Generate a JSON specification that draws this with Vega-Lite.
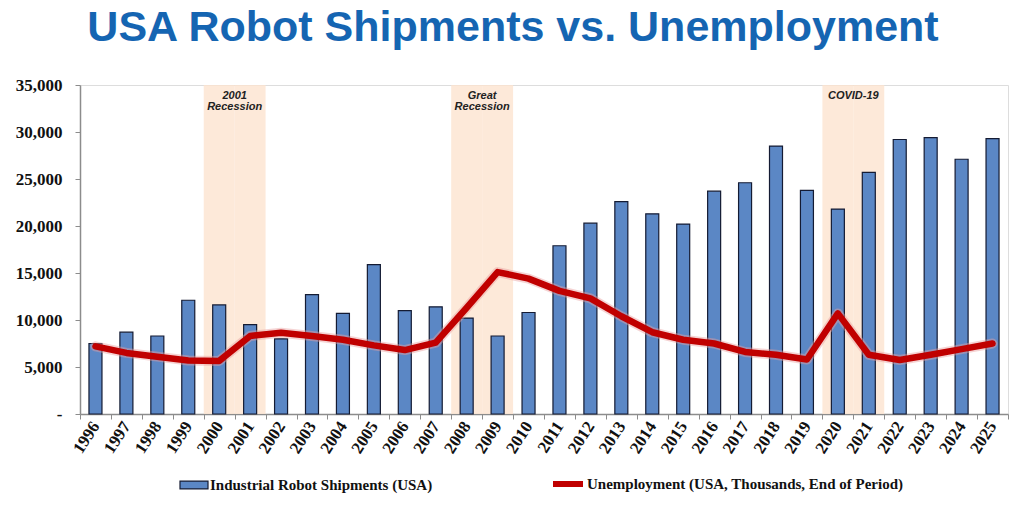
{
  "$schema": "https://vega.github.io/schema/vega-lite/v6.json",
  "autosize": "none",
  "width": 928,
  "height": 329,
  "padding": {"left": 80, "top": 85, "right": 16, "bottom": 96},
  "background": "white",
  "title": {
    "text": "USA Robot Shipments vs. Unemployment",
    "anchor": "middle",
    "dx": -31,
    "offset": -8,
    "baseline": "alphabetic",
    "font": "Liberation Sans",
    "fontSize": 43,
    "fontWeight": "bold",
    "color": "#1565B2"
  },
  "datasets": {
    "main": [
      {"year": "1996", "robots": 7500, "unemp": 7200},
      {"year": "1997", "robots": 8700, "unemp": 6500},
      {"year": "1998", "robots": 8300, "unemp": 6100},
      {"year": "1999", "robots": 12100, "unemp": 5700},
      {"year": "2000", "robots": 11600, "unemp": 5650},
      {"year": "2001", "robots": 9500, "unemp": 8300},
      {"year": "2002", "robots": 8000, "unemp": 8650},
      {"year": "2003", "robots": 12700, "unemp": 8300},
      {"year": "2004", "robots": 10700, "unemp": 7900},
      {"year": "2005", "robots": 15900, "unemp": 7300},
      {"year": "2006", "robots": 11000, "unemp": 6800},
      {"year": "2007", "robots": 11400, "unemp": 7600},
      {"year": "2008", "robots": 10200, "unemp": 11300},
      {"year": "2009", "robots": 8300, "unemp": 15100},
      {"year": "2010", "robots": 10800, "unemp": 14400},
      {"year": "2011", "robots": 17900, "unemp": 13100},
      {"year": "2012", "robots": 20300, "unemp": 12300},
      {"year": "2013", "robots": 22600, "unemp": 10400},
      {"year": "2014", "robots": 21300, "unemp": 8700},
      {"year": "2015", "robots": 20200, "unemp": 7900},
      {"year": "2016", "robots": 23700, "unemp": 7500},
      {"year": "2017", "robots": 24600, "unemp": 6600},
      {"year": "2018", "robots": 28500, "unemp": 6300},
      {"year": "2019", "robots": 23800, "unemp": 5800},
      {"year": "2020", "robots": 21800, "unemp": 10700},
      {"year": "2021", "robots": 25700, "unemp": 6300},
      {"year": "2022", "robots": 29200, "unemp": 5750},
      {"year": "2023", "robots": 29400, "unemp": 6300},
      {"year": "2024", "robots": 27100, "unemp": 6900},
      {"year": "2025", "robots": 29300, "unemp": 7500}
    ],
    "recessionYears": [
      {"year": "2000"}, {"year": "2001"},
      {"year": "2008"}, {"year": "2009"},
      {"year": "2020"}, {"year": "2021"}
    ],
    "recessionLabels": [
      {"year": "2001", "label": "2001\nRecession"},
      {"year": "2009", "label": "Great\nRecession"},
      {"year": "2021", "label": "COVID-19"}
    ]
  },
  "encoding": {
    "x": {
      "field": "year",
      "type": "ordinal",
      "scale": {"paddingInner": 0, "paddingOuter": 0},
      "axis": {
        "title": null,
        "labelAngle": -57,
        "labelAlign": "right",
        "labelBaseline": "middle",
        "labelFont": "Liberation Serif",
        "labelFontSize": 17,
        "labelFontWeight": "bold",
        "labelColor": "#111111",
        "labelPadding": 4,
        "tickBand": "extent",
        "tickSize": 5,
        "tickColor": "#8C8C8C",
        "domainColor": "#8C8C8C",
        "domainWidth": 1.5,
        "grid": false
      }
    }
  },
  "layer": [
    {
      "data": {"name": "recessionYears"},
      "mark": {"type": "bar", "color": "#FCE3D0", "opacity": 0.8, "width": {"band": 1}},
      "encoding": {
        "y": {"datum": 35000, "type": "quantitative"},
        "y2": {"datum": 0}
      }
    },
    {
      "data": {"name": "main"},
      "mark": {"type": "bar", "size": 13, "stroke": "#141B33", "strokeWidth": 1.2},
      "encoding": {
        "y": {
          "field": "robots",
          "type": "quantitative",
          "scale": {"domain": [0, 35000], "nice": false},
          "axis": {
            "title": null,
            "values": [0, 5000, 10000, 15000, 20000, 25000, 30000, 35000],
            "labelExpr": "datum.value === 0 ? '-' : format(datum.value, ',')",
            "labelFont": "Liberation Serif",
            "labelFontSize": 17,
            "labelFontWeight": "bold",
            "labelColor": "#111111",
            "labelPadding": 13,
            "tickSize": 5,
            "tickColor": "#8C8C8C",
            "domainColor": "#8C8C8C",
            "domainWidth": 1.5,
            "gridColor": "#DADADA",
            "gridWidth": 1.5
          }
        },
        "fill": {
          "datum": "Industrial Robot Shipments (USA)",
          "type": "nominal",
          "scale": {"range": ["#5B87C5"]},
          "legend": {
            "title": null,
            "orient": "none",
            "legendX": 99,
            "legendY": 385,
            "symbolType": "M-1,-0.28H1V0.28H-1Z",
            "symbolSize": 784,
            "symbolStrokeColor": "#141B33",
            "symbolStrokeWidth": 1.2,
            "labelFont": "Liberation Serif",
            "labelFontSize": 15,
            "labelFontWeight": "bold",
            "labelColor": "#111111",
            "labelOffset": 1,
            "labelLimit": 500
          }
        }
      }
    },
    {
      "data": {"name": "main"},
      "mark": {"type": "line", "color": "#E8A0A0", "strokeWidth": 10, "opacity": 0.45, "strokeJoin": "round", "strokeCap": "round"},
      "encoding": {"y": {"field": "unemp", "type": "quantitative"}}
    },
    {
      "data": {"name": "main"},
      "mark": {"type": "line", "strokeWidth": 6.5, "strokeJoin": "round", "strokeCap": "round"},
      "encoding": {
        "y": {"field": "unemp", "type": "quantitative"},
        "stroke": {
          "datum": "Unemployment (USA, Thousands, End of Period)",
          "type": "nominal",
          "scale": {"range": ["#C00000"]},
          "legend": {
            "title": null,
            "orient": "none",
            "legendX": 470,
            "legendY": 381,
            "symbolType": "M-1,0H1",
            "symbolSize": 900,
            "symbolStrokeWidth": 6,
            "labelFont": "Liberation Serif",
            "labelFontSize": 15,
            "labelFontWeight": "bold",
            "labelColor": "#111111",
            "labelOffset": 1,
            "labelLimit": 500
          }
        }
      }
    },
    {
      "data": {"name": "recessionLabels"},
      "mark": {
        "type": "text",
        "font": "Liberation Sans",
        "fontSize": 11,
        "fontWeight": "bold",
        "fontStyle": "italic",
        "color": "#222222",
        "baseline": "top",
        "align": "center",
        "lineBreak": "\n",
        "lineHeight": 11,
        "dy": 5
      },
      "encoding": {
        "x": {"field": "year", "type": "ordinal", "bandPosition": 0},
        "y": {"datum": 35000, "type": "quantitative"},
        "text": {"field": "label"}
      }
    }
  ]
}
